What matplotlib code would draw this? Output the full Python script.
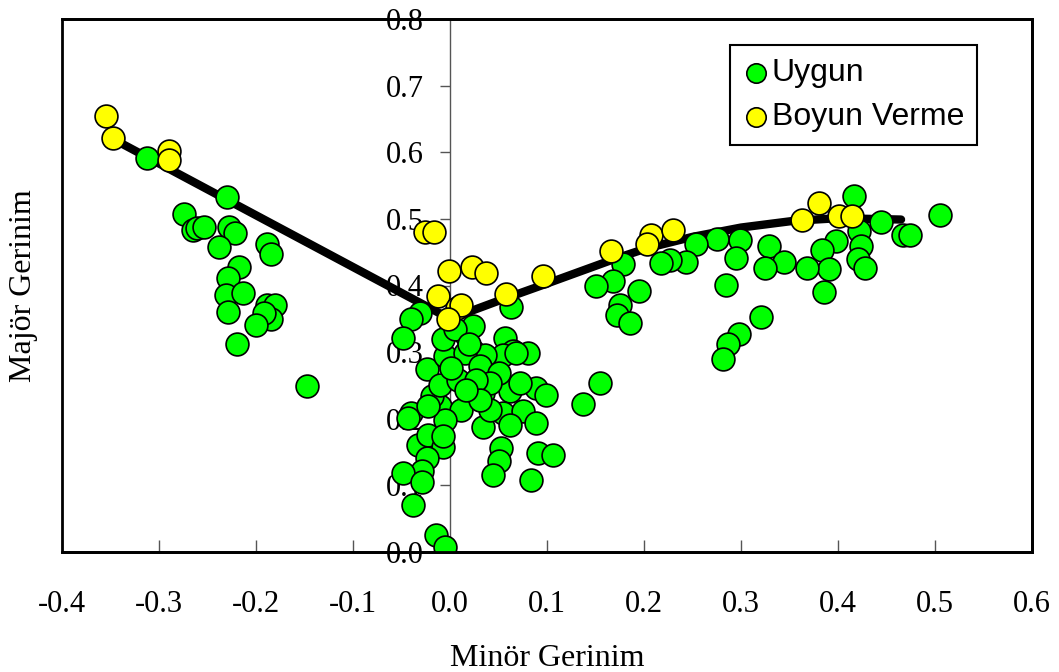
import matplotlib
matplotlib.use("Agg")
import matplotlib.pyplot as plt
from matplotlib.patches import Rectangle
from matplotlib.ticker import FormatStrFormatter

plt.rcParams['axes.unicode_minus'] = False

# Uygun (green) points
uygun_x = [-0.312, -0.2295, -0.274, -0.265, -0.261, -0.2535, -0.228, -0.222, -0.238, -0.189,
           -0.185, -0.218, -0.229, -0.2305, -0.213, -0.229, -0.189, -0.180, -0.185, -0.192,
           -0.1995, -0.220, -0.147,
           -0.031, -0.040, -0.048, 0.017, 0.024, 0.063, 0.0564, 0.065, 0.0807, 0.055,
           0.024, 0.036, 0.046, 0.034, 0.0615, 0.089, 0.099, 0.137,
           0.055, 0.0756, 0.089, 0.034, 0.0615, 0.053, 0.0907, 0.106, 0.051, 0.0446, 0.0839,
           -0.040, -0.0433, -0.033, -0.0224, -0.007, -0.024, -0.029, -0.048, -0.029, -0.038,
           -0.014, -0.0055, -0.0106, 0.0118, -0.0055, -0.019,
           -0.024, -0.0106, 0.0083, -0.0055, -0.007, 0.015, 0.0306, 0.051, 0.068, 0.041,
           0.041, 0.0719, 0.027, 0.0306, 0.017, 0.0014, -0.007, -0.0227, 0.005, 0.020,
           0.417, 0.4447, 0.467, 0.474, 0.505, 0.422, 0.4234, 0.4209, 0.4275, 0.398,
           0.383, 0.391, 0.368, 0.3856, 0.3286, 0.344, 0.3244, 0.2994, 0.2757, 0.2953,
           0.254, 0.2437, 0.2265, 0.218, 0.285, 0.1787, 0.1684, 0.150, 0.195, 0.175,
           0.1718, 0.1853, 0.321, 0.298, 0.2867, 0.281, 0.155]
uygun_y = [0.592, 0.533, 0.508, 0.484, 0.487, 0.488, 0.488, 0.479, 0.458, 0.462,
           0.447, 0.428, 0.412, 0.385, 0.388, 0.360, 0.370, 0.370, 0.349, 0.358,
           0.340, 0.312, 0.249,
           0.359, 0.349, 0.321, 0.326, 0.339, 0.367, 0.321, 0.301, 0.299, 0.296,
           0.301, 0.296, 0.266, 0.2386, 0.241, 0.246, 0.236, 0.222,
           0.2086, 0.211, 0.1935, 0.188, 0.191, 0.156, 0.148, 0.146, 0.136, 0.1158, 0.108,
           0.2086, 0.201, 0.161, 0.176, 0.158, 0.141, 0.121, 0.118, 0.1057, 0.0707,
           0.0256, 0.008, 0.2185, 0.2135, 0.1985, 0.2335,
           0.274, 0.251, 0.2586, 0.2937, 0.319, 0.2988, 0.2787, 0.2687, 0.2988, 0.2135,
           0.2536, 0.2536, 0.2586, 0.2286, 0.2436, 0.276, 0.1734, 0.2185, 0.335, 0.312,
           0.534, 0.4957, 0.4757, 0.4757, 0.506, 0.4817, 0.460, 0.440, 0.4266, 0.4667,
           0.4526, 0.425, 0.4256, 0.3905, 0.460, 0.4356, 0.4256, 0.468, 0.470, 0.4406,
           0.4617, 0.435, 0.438, 0.434, 0.4005, 0.4326, 0.4075, 0.400, 0.391, 0.370,
           0.356, 0.343, 0.352, 0.327, 0.312, 0.290, 0.2536]

# Boyun Verme (yellow) points
boyun_x = [-0.355, -0.347, -0.290, -0.290, -0.026, -0.016, -0.001, 0.023, 0.0375, -0.012,
           0.0076, 0.0118, -0.002, 0.0574, 0.096, 0.1657, 0.207, 0.2027, 0.230, 0.363,
           0.380, 0.4007, 0.4147]
boyun_y = [0.655, 0.622, 0.602, 0.589, 0.481, 0.480, 0.4215, 0.4275, 0.419, 0.384,
           0.3664, 0.3714, 0.350, 0.3875, 0.414, 0.4516, 0.476, 0.4627, 0.484, 0.499,
           0.524, 0.504, 0.504]

# Forming limit curve
curve_x = [-0.35, 0.0, 0.05, 0.10, 0.134, 0.17, 0.203, 0.25, 0.30, 0.354, 0.40, 0.465]
curve_y = [0.622, 0.350, 0.377, 0.403, 0.421, 0.440, 0.456, 0.473, 0.487, 0.497, 0.501, 0.499]

x_ticks = [-0.4, -0.3, -0.2, -0.1, 0.0, 0.1, 0.2, 0.3, 0.4, 0.5, 0.6]
y_ticks = [0.0, 0.1, 0.2, 0.3, 0.4, 0.5, 0.6, 0.7, 0.8]

fig = plt.figure(figsize=(10.59, 6.72), dpi=100)
ax = fig.add_axes([62 / 1059, 1 - 552 / 672, 970 / 1059, 533 / 672])
ax.set_xlim(-0.4, 0.6)
ax.set_ylim(0.0, 0.8)
ax.set_axisbelow(True)

serif = 'Liberation Serif'
sans = 'Liberation Sans'

ax.plot(curve_x, curve_y, color='black', lw=6, solid_capstyle='round',
        solid_joinstyle='round', zorder=2)
ax.scatter(uygun_x, uygun_y, s=270, c='#00ff00', edgecolors='black', linewidths=1.2,
           zorder=3, label='Uygun')
ax.scatter(boyun_x, boyun_y, s=270, c='#ffff00', edgecolors='black', linewidths=1.2,
           zorder=4, label='Boyun Verme')

# y-axis line at x=0; outer frame drawn separately
ax.spines['left'].set_position(('data', 0))
ax.spines['left'].set_color('#555555')
ax.spines['left'].set_linewidth(1.0)
for s in ['top', 'right', 'bottom']:
    ax.spines[s].set_linewidth(2.0)
    ax.spines[s].set_color('black')
ax.add_patch(Rectangle((0, 0), 1, 1, transform=ax.transAxes, fill=False,
                       ec='black', lw=2.0, zorder=5, clip_on=False))

ax.set_xticks(x_ticks)
ax.set_yticks(y_ticks)
ax.xaxis.set_major_formatter(FormatStrFormatter('%.1f'))
ax.yaxis.set_major_formatter(FormatStrFormatter('%.1f'))
ax.tick_params(axis='x', direction='in', length=9, width=1, color='#555555', pad=27,
               labelsize=22)
ax.tick_params(axis='y', direction='out', length=7, width=1, color='#555555', pad=12,
               labelsize=22)
for lab in ax.get_xticklabels() + ax.get_yticklabels():
    lab.set_fontfamily(serif)

ax.set_xlabel('Minör Gerinim', fontfamily=serif, fontsize=23, labelpad=18)
ax.set_ylabel('Majör Gerinim', fontfamily=serif, fontsize=23)
ax.yaxis.set_label_coords(-(62 - 38) / 970, 0.5)

leg = ax.legend(loc='upper right', bbox_to_anchor=(0.943, 0.951), frameon=True,
                fancybox=False, edgecolor='black', framealpha=1,
                prop={'family': sans, 'size': 23}, markerscale=0.85,
                handletextpad=0.1, handlelength=0.8, borderpad=0.4,
                labelspacing=0.45, borderaxespad=0)
leg.get_frame().set_linewidth(1.5)
leg.set_zorder(6)

fig.savefig('out.png', dpi=100)
